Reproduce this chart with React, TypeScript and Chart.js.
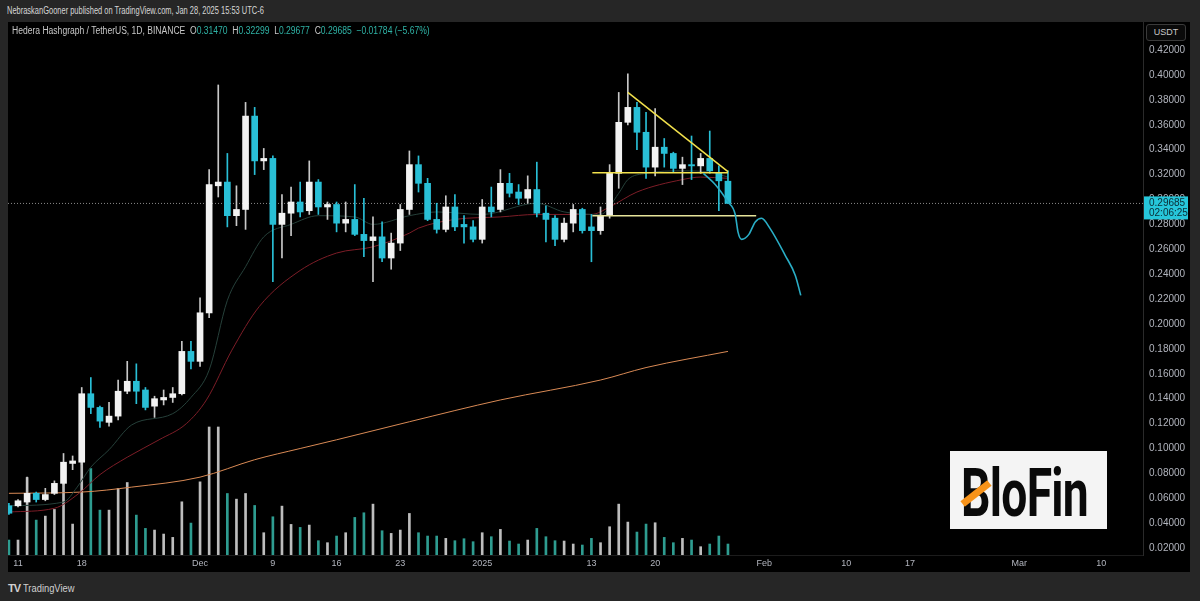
import React, { useEffect, useRef } from "react";
import { Chart, registerables } from "chart.js";
Chart.register(...registerables);

// ---- Candles (index 0 = Nov 10, 2024 ... index 79 = Jan 28, 2025) ----
const opens = [
  0.054, 0.054, 0.057, 0.064, 0.059, 0.064, 0.072, 0.088, 0.089, 0.144,
  0.133, 0.121, 0.126, 0.146, 0.154, 0.147, 0.134, 0.139, 0.141, 0.144,
  0.178, 0.170, 0.209, 0.311, 0.314, 0.287, 0.292, 0.367, 0.331, 0.333,
  0.280, 0.289, 0.298, 0.291, 0.314, 0.294, 0.296, 0.281, 0.284, 0.272,
  0.267, 0.270, 0.253, 0.265, 0.292, 0.328, 0.313, 0.284, 0.276, 0.294,
  0.280, 0.278, 0.268, 0.294, 0.292, 0.313, 0.306, 0.301, 0.308, 0.289,
  0.285, 0.268, 0.281, 0.292, 0.278, 0.275, 0.287, 0.321, 0.362, 0.374,
  0.354, 0.326, 0.342, 0.337, 0.325, 0.328, 0.327, 0.333, 0.321, 0.3147,
];
const highs = [
  0.056, 0.059, 0.077, 0.065, 0.068, 0.074, 0.096, 0.094, 0.149, 0.157,
  0.134, 0.137, 0.155, 0.170, 0.168, 0.149, 0.142, 0.147, 0.149, 0.186,
  0.186, 0.221, 0.324, 0.392, 0.337, 0.311, 0.378, 0.374, 0.341, 0.335,
  0.304, 0.310, 0.314, 0.331, 0.316, 0.298, 0.298, 0.298, 0.312, 0.301,
  0.286, 0.282, 0.273, 0.296, 0.339, 0.335, 0.317, 0.297, 0.303, 0.304,
  0.287, 0.283, 0.300, 0.310, 0.324, 0.321, 0.312, 0.319, 0.330, 0.295,
  0.287, 0.285, 0.296, 0.293, 0.288, 0.294, 0.328, 0.386, 0.401, 0.378,
  0.370, 0.373, 0.349, 0.338, 0.334, 0.351, 0.337, 0.355, 0.327, 0.32299,
];
const lows = [
  0.047, 0.053, 0.056, 0.057, 0.058, 0.063, 0.071, 0.083, 0.087, 0.128,
  0.117, 0.118, 0.123, 0.144, 0.136, 0.131, 0.125, 0.135, 0.137, 0.143,
  0.164, 0.166, 0.205, 0.302, 0.278, 0.279, 0.276, 0.320, 0.324, 0.234,
  0.253, 0.271, 0.286, 0.288, 0.288, 0.284, 0.274, 0.274, 0.271, 0.254,
  0.234, 0.250, 0.244, 0.259, 0.288, 0.306, 0.283, 0.273, 0.274, 0.275,
  0.265, 0.266, 0.265, 0.286, 0.290, 0.302, 0.296, 0.297, 0.286, 0.266,
  0.263, 0.266, 0.274, 0.273, 0.250, 0.272, 0.285, 0.309, 0.360, 0.340,
  0.317, 0.319, 0.326, 0.322, 0.312, 0.316, 0.321, 0.321, 0.291, 0.29677,
];
const closes = [
  0.048, 0.058, 0.064, 0.059, 0.063, 0.072, 0.089, 0.090, 0.144, 0.133,
  0.122, 0.126, 0.146, 0.154, 0.146, 0.133, 0.140, 0.141, 0.144, 0.178,
  0.170, 0.209, 0.312, 0.314, 0.287, 0.292, 0.367, 0.331, 0.333, 0.280,
  0.289, 0.298, 0.290, 0.314, 0.294, 0.296, 0.281, 0.284, 0.272, 0.267,
  0.270, 0.253, 0.265, 0.292, 0.328, 0.313, 0.284, 0.276, 0.294, 0.278,
  0.278, 0.268, 0.294, 0.290, 0.313, 0.305, 0.301, 0.308, 0.289, 0.284,
  0.268, 0.281, 0.292, 0.275, 0.275, 0.287, 0.321, 0.362, 0.374, 0.354,
  0.326, 0.342, 0.337, 0.325, 0.328, 0.327, 0.333, 0.323, 0.315, 0.29685,
];
const volumes = [
  45, 45, 233, 105, 117, 137, 240, 93, 280, 260,
  135, 135, 200, 218, 120, 80, 75, 63, 53, 160,
  96, 220, 385, 385, 185, 168, 185, 149, 67, 115,
  147, 92, 83, 90, 43, 37, 57, 67, 113, 127,
  153, 73, 65, 75, 125, 67, 57, 57, 50, 43,
  49, 40, 67, 55, 77, 42, 33, 45, 80, 55,
  43, 42, 33, 30, 50, 37, 85, 153, 99, 69,
  93, 97, 53, 37, 50, 45, 25, 33, 57, 33,
];

// ---- Axis ticks ----
const xTickIdx = [1, 8, 21, 29, 36, 43, 52, 64, 71, 83, 92, 99, 111, 120];
const xTickLabels = ["11", "18", "Dec", "9", "16", "23", "2025", "13", "20", "Feb", "10", "17", "Mar", "10"];
const yTicks = [0.02, 0.04, 0.06, 0.08, 0.1, 0.12, 0.14, 0.16, 0.18, 0.2, 0.22, 0.24, 0.26, 0.28, 0.3, 0.32, 0.34, 0.36, 0.38, 0.4, 0.42];

// ---- Moving averages (read at sample days) ----
const fastIdx = [0, 6, 7.5, 9, 11, 13.5, 18, 20, 22, 24, 26, 28, 31, 34, 38, 40, 44, 47, 52, 58, 61, 65, 67, 68, 70, 74, 77, 79];
const fastVal = [0.054, 0.057, 0.069, 0.085, 0.099, 0.119, 0.128, 0.141, 0.163, 0.219, 0.246, 0.27, 0.28, 0.287, 0.286, 0.28, 0.287, 0.29, 0.288, 0.297, 0.29, 0.288, 0.305, 0.316, 0.321, 0.323, 0.322, 0.318];
const midIdx = [0, 5, 7.7, 10, 13, 16.5, 19.5, 21.7, 24.5, 27.5, 32, 36, 40, 44, 45, 49, 54, 58, 64, 66, 69, 74, 76, 79];
const midVal = [0.049, 0.052, 0.064, 0.079, 0.093, 0.107, 0.12, 0.139, 0.179, 0.214, 0.243, 0.257, 0.262, 0.273, 0.277, 0.284, 0.286, 0.288, 0.288, 0.294, 0.306, 0.316, 0.318, 0.317];
const slowIdx = [0, 8, 13.5, 21, 27, 32, 36, 44, 54, 65, 70, 79];
const slowVal = [0.064, 0.065, 0.069, 0.077, 0.091, 0.1, 0.107, 0.1215, 0.139, 0.155, 0.165, 0.178];

// ---- Drawings ----
const trendIdx = [68, 79];
const trendVal = [0.386, 0.3224];
const resIdx = [64.1, 79];
const resVal = [0.3215, 0.3215];
const supIdx = [64.1, 82.1];
const supVal = [0.287, 0.287];
const projIdx = [76.3, 77.6, 79.0, 79.8, 80.1, 80.5, 81.3, 82.0, 82.7, 83.6, 85.3, 86.4, 87.0];
const projVal = [0.321, 0.312, 0.298, 0.288, 0.274, 0.268, 0.272, 0.282, 0.285, 0.277, 0.255, 0.239, 0.223];

const lastClose = 0.29685;
const countdown = "02:06:25";
const X_MIN = -0.1;
const X_MAX = 124.6;

const UP = "#f2f2f2";
const DOWN = "#29bfd6";
const UP_WICK = "#c8c8c8";
const VOL_UP = "#bdbdbd";
const VOL_DOWN = "#2e9c90";

const pts = (xs: number[], ys: number[]) => xs.map((x, i) => ({ x, y: ys[i] }));

export default function App() {
  const ref = useRef<HTMLCanvasElement | null>(null);

  useEffect(() => {
    document.body.style.margin = "0";
    const isUp = (i: number) => closes[i] >= opens[i];
    const bodyData = opens.map((o, i) => ({ x: i, y: [o, closes[i]] }));
    const wickData = opens.map((_, i) => ({ x: i, y: [lows[i], highs[i]] }));
    const volData = volumes.map((v, i) => ({ x: i, y: v }));

    const priceTag = {
      id: "priceTag",
      afterDraw(chart: any) {
        const { ctx, chartArea, scales } = chart;
        const py = scales.y.getPixelForValue(lastClose);
        const x0 = chartArea.right + 1;
        ctx.save();
        ctx.fillStyle = "#26c6da";
        ctx.fillRect(x0, py - 7, 44, 23);
        ctx.fillStyle = "#0b2c34";
        ctx.font = '10px "Liberation Sans"';
        ctx.textBaseline = "middle";
        ctx.textAlign = "left";
        ctx.fillText(lastClose.toFixed(5), x0 + 5, py);
        ctx.fillText(countdown, x0 + 5, py + 10);
        ctx.restore();
      },
    };

    const lineBase = {
      type: "line" as const,
      pointRadius: 0,
      borderWidth: 1,
      fill: false,
      cubicInterpolationMode: "monotone" as const,
      yAxisID: "y",
    };

    const chart = new Chart(ref.current as HTMLCanvasElement, {
      type: "bar",
      data: {
        datasets: [
          {
            type: "bar",
            data: volData as any,
            yAxisID: "yv",
            backgroundColor: volumes.map((_, i) => (isUp(i) ? VOL_UP : VOL_DOWN)),
            barThickness: 2,
            grouped: false,
            order: 20,
          },
          { ...lineBase, data: pts(slowIdx, slowVal), borderColor: "#d98a55", order: 15 },
          { ...lineBase, data: pts(midIdx, midVal), borderColor: "#7d1d27", order: 14 },
          { ...lineBase, data: pts(fastIdx, fastVal), borderColor: "#26403a", order: 13 },
          {
            ...lineBase,
            data: [{ x: X_MIN, y: lastClose }, { x: X_MAX, y: lastClose }],
            borderColor: "#8a8a8a",
            borderDash: [1, 2],
            cubicInterpolationMode: "default" as const,
            order: 12,
          },
          {
            type: "bar",
            data: wickData as any,
            yAxisID: "y",
            backgroundColor: opens.map((_, i) => (isUp(i) ? UP_WICK : DOWN)),
            barThickness: 1,
            grouped: false,
            order: 6,
          },
          {
            type: "bar",
            data: bodyData as any,
            yAxisID: "y",
            backgroundColor: opens.map((_, i) => (isUp(i) ? UP : DOWN)),
            barThickness: 6,
            minBarLength: 1,
            grouped: false,
            order: 5,
          },
          { ...lineBase, data: pts(supIdx, supVal), borderColor: "#e6e39a", borderWidth: 1.5, cubicInterpolationMode: "default" as const, order: 3 },
          { ...lineBase, data: pts(resIdx, resVal), borderColor: "#f2e14c", borderWidth: 1.5, cubicInterpolationMode: "default" as const, order: 3 },
          { ...lineBase, data: pts(trendIdx, trendVal), borderColor: "#f2e14c", borderWidth: 1.5, cubicInterpolationMode: "default" as const, order: 2 },
          { ...lineBase, data: pts(projIdx, projVal), borderColor: "#2aaec6", borderWidth: 1.6, order: 1 },
        ] as any,
      },
      options: {
        animation: false,
        responsive: false,
        maintainAspectRatio: false,
        events: [],
        layout: { padding: 0 },
        plugins: { legend: { display: false }, tooltip: { enabled: false } },
        scales: {
          x: {
            type: "linear",
            min: X_MIN,
            max: X_MAX,
            offset: false,
            grid: { display: false, drawTicks: false },
            border: { display: true, color: "#1c1c1c" },
            afterBuildTicks: (scale: any) => {
              scale.ticks = xTickIdx.map((v) => ({ value: v }));
            },
            afterFit: (scale: any) => {
              scale.height = 17;
              scale.paddingLeft = 0;
              scale.paddingRight = 0;
              scale.paddingTop = 0;
              scale.paddingBottom = 0;
            },
            ticks: {
              autoSkip: false,
              maxRotation: 0,
              padding: 3,
              color: "#b2b5be",
              font: { family: '"Liberation Sans"', size: 9 },
              callback: (v: any) => {
                const k = xTickIdx.indexOf(Number(v));
                return k >= 0 ? xTickLabels[k] : "";
              },
            },
          },
          y: {
            type: "linear",
            position: "right",
            min: 0.01446,
            max: 0.44257,
            grid: { display: false, drawTicks: false },
            border: { display: true, color: "#2a2a2a" },
            afterBuildTicks: (scale: any) => {
              scale.ticks = yTicks.map((v) => ({ value: v }));
            },
            afterFit: (scale: any) => {
              scale.width = 47;
              scale.paddingTop = 0;
              scale.paddingBottom = 0;
              scale.paddingLeft = 0;
              scale.paddingRight = 0;
            },
            ticks: {
              padding: 6,
              color: "#b2b5be",
              font: { family: '"Liberation Sans"', size: 10 },
              callback: (v: any) => Number(v).toFixed(5),
            },
          },
          yv: {
            type: "linear",
            display: false,
            min: 0,
            max: 1603,
          },
        },
      } as any,
      plugins: [priceTag],
    });
    return () => chart.destroy();
  }, []);

  const teal = "#2fb3a6";
  return (
    <div
      style={{
        position: "fixed",
        left: 0,
        top: 0,
        width: 1200,
        height: 601,
        background: "#262626",
        overflow: "hidden",
        fontFamily: '"Liberation Sans", Arial, sans-serif',
      }}
    >
      <div
        style={{
          position: "absolute",
          left: 7,
          top: 4,
          fontSize: 11,
          color: "#d6d6d6",
          whiteSpace: "nowrap",
          transform: "scaleX(0.68)",
          transformOrigin: "left top",
        }}
      >
        NebraskanGooner published on TradingView.com, Jan 28, 2025 15:53 UTC-6
      </div>
      <div style={{ position: "absolute", left: 8, top: 22, width: 1182, height: 550, background: "#000" }}>
        <canvas ref={ref} width={1182} height={550} style={{ display: "block" }} />
      </div>
      <div
        style={{
          position: "absolute",
          left: 12,
          top: 25,
          fontSize: 10,
          color: "#c8c8c8",
          whiteSpace: "nowrap",
          transform: "scaleX(0.855)",
          transformOrigin: "left top",
        }}
      >
        Hedera Hashgraph / TetherUS, 1D, BINANCE&nbsp;&nbsp;O<span style={{ color: teal }}>0.31470</span>&nbsp;&nbsp;H
        <span style={{ color: teal }}>0.32299</span>&nbsp;&nbsp;L<span style={{ color: teal }}>0.29677</span>&nbsp;&nbsp;C
        <span style={{ color: teal }}>0.29685</span>&nbsp;&nbsp;<span style={{ color: teal }}>−0.01784 (−5.67%)</span>
      </div>
      <div
        style={{
          position: "absolute",
          left: 1146,
          top: 24,
          width: 40,
          height: 17,
          border: "1px solid #3a3a3a",
          borderRadius: 3,
          boxSizing: "border-box",
          color: "#c8c8c8",
          fontSize: 9,
          lineHeight: "15px",
          textAlign: "center",
          background: "#0a0a0a",
        }}
      >
        USDT
      </div>
      <div
        style={{
          position: "absolute",
          left: 950,
          top: 451,
          width: 157,
          height: 78,
          background: "#f4f4f4",
          overflow: "hidden",
        }}
      >
        <div
          style={{
            position: "absolute",
            left: 11,
            top: 8,
            fontFamily: "Roboto, sans-serif",
            fontWeight: 700,
            fontSize: 66,
            lineHeight: "70px",
            color: "#0a0a0a",
            whiteSpace: "nowrap",
            transform: "scaleX(0.7)",
            transformOrigin: "left top",
            letterSpacing: -1,
          }}
        >
          BloFin
        </div>
        <div
          style={{
            position: "absolute",
            left: 9,
            top: 39,
            width: 34,
            height: 7,
            background: "#f7931a",
            transform: "rotate(-38deg)",
          }}
        />
      </div>
      <div
        style={{
          position: "absolute",
          left: 8,
          top: 582,
          fontSize: 11,
          color: "#d0d0d0",
          whiteSpace: "nowrap",
        }}
      >
        <span style={{ fontWeight: 900, fontSize: 11, letterSpacing: -1, marginRight: 3 }}>TV</span>
        <span style={{ display: "inline-block", transform: "scaleX(0.85)", transformOrigin: "left center" }}>TradingView</span>
      </div>
    </div>
  );
}
